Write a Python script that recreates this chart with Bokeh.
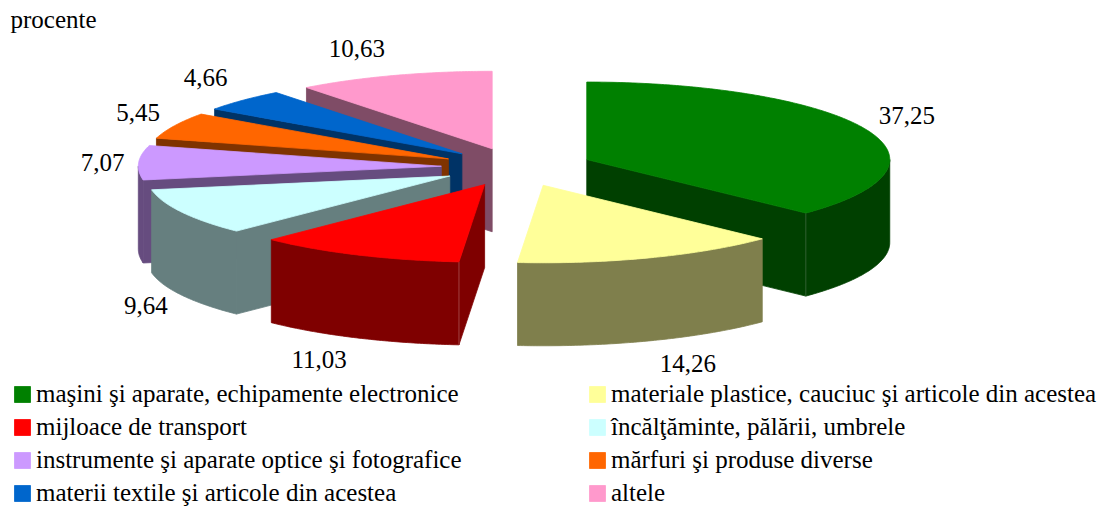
import math
from bokeh.core.properties import value
from bokeh.embed import file_html
from bokeh.models import Legend, LegendItem, Range1d
from bokeh.plotting import figure
from bokeh.resources import INLINE

# ---- data ----
categories = [
    "maşini şi aparate, echipamente electronice",
    "materiale plastice, cauciuc şi articole din acestea",
    "mijloace de transport",
    "încălţăminte, pălării, umbrele",
    "instrumente şi aparate optice şi fotografice",
    "mărfuri şi produse diverse",
    "materii textile şi articole din acestea",
    "altele",
]
values = [37.25, 14.26, 11.03, 9.64, 7.07, 5.45, 4.66, 10.63]
unit_label = "procente"

# ---- styles ----
top_colors = ["#008000", "#FFFF99", "#FF0000", "#CCFFFF", "#CC99FF", "#FF6600", "#0066CC", "#FF99CC"]
seam_colors = {0: "#2F5F2F", 2: "#A04040"}
FONT = "Liberation Serif"
FONT_SIZE = "25px"

# ---- pie geometry (in page pixels) ----
W, H = 1102, 506
CX, CY = 516.5, 166.6
RX, RY = 303.0, 77.5
DEPTH = 83.0
EXPLODE = 0.25
PERSPECTIVE = math.radians(0.6)  # projected edges lean slightly toward the vertical axis
# label offset from the rim point at each slice's middle angle
label_dx = [41, 40, -36, -35, -36, -36, -36, -36]
label_dy = [-14, 22.5, 22, 11, 0, -13.5, -23, -27]
# painter's order, back to front
draw_order = [7, 6, 5, 4, 3, 2, 0, 1]


def darker(c):
    return "#%02X%02X%02X" % tuple(int(c[i:i + 2], 16) // 2 for i in (1, 3, 5))


total = sum(values)
spans = [v / total * 2 * math.pi for v in values]
starts = [sum(spans[:i]) for i in range(len(spans))]
edges = [s + PERSPECTIVE * math.cos(s) if k else 0.0 for k, s in enumerate(starts)] + [2 * math.pi]

p = figure(width=W, height=H, x_range=Range1d(0, W), y_range=Range1d(H, 0),
           x_axis_location=None, y_axis_location=None, toolbar_location=None,
           output_backend="svg", min_border=0, outline_line_color=None,
           margin=0)
p.grid.visible = False


def apex(i):
    mid = starts[i] + spans[i] / 2
    return CX + EXPLODE * RX * math.sin(mid), CY - EXPLODE * RY * math.cos(mid)


def rim(i, t):
    ax, ay = apex(i)
    return ax + RX * math.sin(t), ay - RY * math.cos(t)


def arc(i, t0, t1):
    n = max(2, int(abs(t1 - t0) / 0.01))
    return [rim(i, t0 + (t1 - t0) * k / n) for k in range(n + 1)]


def poly(pts, color):
    return p.patch([q[0] for q in pts], [q[1] for q in pts],
                   fill_color=color, line_color=color, line_width=0.8)


top_renderers = {}
for i in draw_order:
    t0, t1 = edges[i], edges[i + 1]
    side = darker(top_colors[i])
    ax, ay = apex(i)
    # radial walls that face the viewer
    corner = None
    if math.sin(t0) < -1e-9:
        x, y = rim(i, t0)
        corner = (x, y)
        poly([(ax, ay), (x, y), (x, y + DEPTH), (ax, ay + DEPTH)], side)
    if math.sin(t1) > 1e-9:
        x, y = rim(i, t1)
        corner = (x, y)
        poly([(ax, ay), (x, y), (x, y + DEPTH), (ax, ay + DEPTH)], side)
    # outer wall: front half of the ellipse only
    lo, hi = max(t0, math.pi / 2), min(t1, 3 * math.pi / 2)
    if hi > lo:
        a = arc(i, lo, hi)
        poly(a + [(x, y + DEPTH) for x, y in reversed(a)], side)
    if i in seam_colors and corner:
        p.segment(corner[0], corner[1], corner[0], corner[1] + DEPTH,
                  line_color=seam_colors[i], line_width=1)
    top_renderers[i] = poly([(ax, ay)] + arc(i, t0, t1), top_colors[i])

# value labels
for i, v in enumerate(values):
    x, y = rim(i, starts[i] + spans[i] / 2)
    if math.cos(starts[i] + spans[i] / 2) < -0.3:
        y += DEPTH
    p.text([x], [y], text=[f"{v:.2f}".replace(".", ",")], x_offset=label_dx[i], y_offset=label_dy[i],
           text_font=value(FONT), text_font_size=FONT_SIZE, text_color="black",
           text_align="center", text_baseline="middle")

p.text([10], [19], text=[unit_label], text_font=value(FONT), text_font_size=FONT_SIZE,
       text_color="black", text_align="left", text_baseline="middle")

# legends: two columns, filled down then across as in the reference
for col, x0 in enumerate((12, 587)):
    items = [LegendItem(label=categories[i], renderers=[top_renderers[i]])
             for i in range(col, len(categories), 2)]
    leg = Legend(items=items, location=(x0, -1), orientation="vertical",
                 glyph_width=20, glyph_height=20, label_standoff=4, spacing=5,
                 padding=0, margin=0, background_fill_alpha=0, border_line_color=None,
                 label_text_font=FONT, label_text_font_size=FONT_SIZE, label_text_color="black")
    p.add_layout(leg, "center")

open("out.html", "w").write(file_html(p, INLINE))
